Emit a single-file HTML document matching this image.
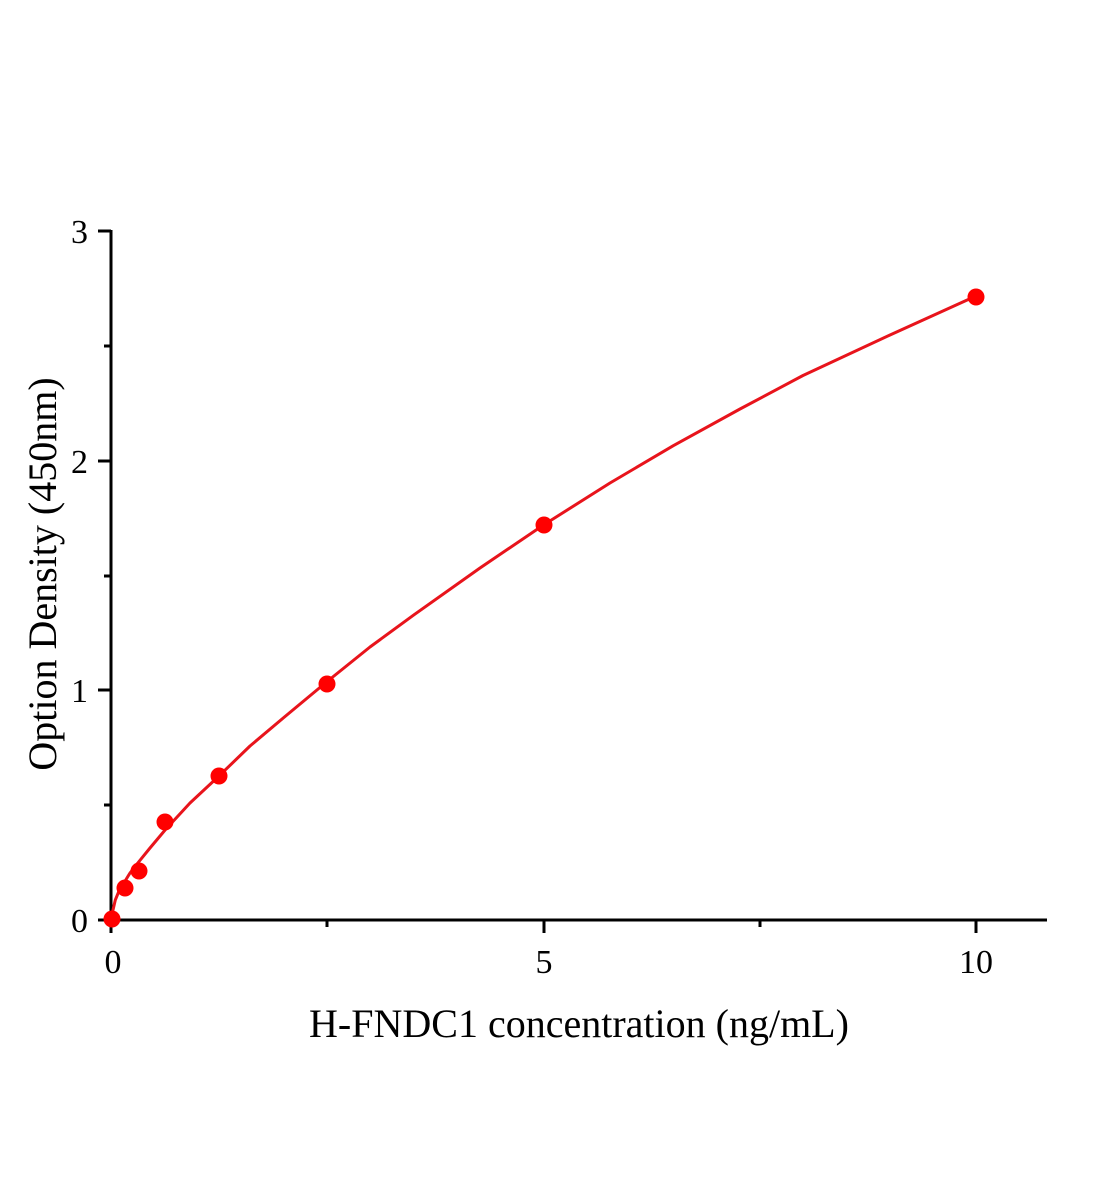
<!DOCTYPE html>
<html><head><style>body{margin:0;background:#fff}svg{display:block}text{font-family:"Liberation Serif",serif;fill:#000}</style></head>
<body>
<svg width="1104" height="1200" viewBox="0 0 1104 1200" xmlns="http://www.w3.org/2000/svg">
<g stroke="#000" stroke-width="3" fill="none">
<line x1="111" y1="230" x2="111" y2="933"/>
<line x1="98" y1="920" x2="1047" y2="920"/>
<line x1="98" y1="231" x2="111" y2="231"/>
<line x1="98" y1="461" x2="111" y2="461"/>
<line x1="98" y1="690" x2="111" y2="690"/>
<line x1="104" y1="346" x2="111" y2="346"/>
<line x1="104" y1="576" x2="111" y2="576"/>
<line x1="104" y1="805" x2="111" y2="805"/>
<line x1="544" y1="920" x2="544" y2="933"/>
<line x1="976" y1="920" x2="976" y2="933"/>
<line x1="327" y1="920" x2="327" y2="927"/>
<line x1="760" y1="920" x2="760" y2="927"/>
</g>
<g font-size="34" text-anchor="end">
<text x="88" y="932">0</text><text x="88" y="702">1</text><text x="88" y="473">2</text><text x="88" y="243">3</text>
</g>
<g font-size="34" text-anchor="middle">
<text x="113" y="973">0</text><text x="544" y="973">5</text><text x="976" y="973">10</text>
</g>
<text x="579" y="1037" font-size="40" text-anchor="middle">H-FNDC1 concentration (ng/mL)</text>
<text transform="translate(56,574) rotate(-90)" font-size="40" text-anchor="middle">Option Density (450nm)</text>
<polyline stroke="#e8141c" stroke-width="3" fill="none" stroke-linejoin="round" points="111,919 113,910 115.3,900 119,891 124.5,882 130,873 137,864 150,848 165.1,830 190,803 219.1,775.9 250,746 284,717.4 327.3,681.4 370,647 413.8,614.9 480,568 543.5,525 610,483 673.3,445.7 740,409 803,375.5 890,335 976,296"/>
<g fill="#f00">
<circle cx="112" cy="919" r="8.5"/><circle cx="125" cy="888" r="8.5"/><circle cx="139" cy="871" r="8.5"/><circle cx="165" cy="822" r="8.5"/><circle cx="219" cy="776" r="8.5"/><circle cx="327" cy="684" r="8.5"/><circle cx="544" cy="525" r="8.5"/><circle cx="976" cy="297" r="8.5"/>
</g>
</svg>
</body></html>
